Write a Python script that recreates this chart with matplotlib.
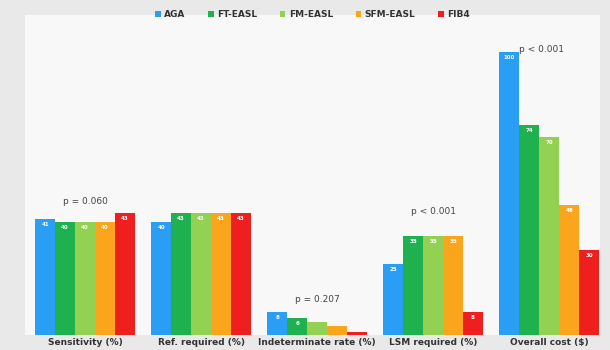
import matplotlib
matplotlib.use("Agg")
import matplotlib.pyplot as plt
import numpy as np

categories = ["Sensitivity (%)", "Ref. required (%)", "Indeterminate rate (%)",
              "LSM required (%)", "Overall cost ($)"]
series_names = ["AGA", "FT-EASL", "FM-EASL", "SFM-EASL", "FIB4"]
aga = [41, 40, 8, 25, 100]
ft_easl = [40, 43, 6, 35, 74]
fm_easl = [40, 43, 4.5, 35, 70]
sfm_easl = [40, 43, 3, 35, 46]
fib4 = [43, 43, 1, 8, 30]
p_labels = ["p = 0.060", "", "p = 0.207", "p < 0.001", "p < 0.001"]

series = [aga, ft_easl, fm_easl, sfm_easl, fib4]
colors = ["#2a9df4", "#1fb14f", "#93d152", "#fba51c", "#ef1f1f"]

fig = plt.figure(figsize=(6.1, 3.5), dpi=100, facecolor="#e9e9e9")
ax = fig.add_axes([0.041, 0.043, 0.943, 0.914])
ax.set_facecolor("#f8f8f8")
for s in ax.spines.values():
    s.set_visible(False)

x = np.arange(len(categories))
w = 0.172
for i, (vals, c, name) in enumerate(zip(series, colors, series_names)):
    pos = x + (i - 2) * w
    bars = ax.bar(pos, vals, width=w, color=c, label=name, edgecolor="none")
    for b, v in zip(bars, vals):
        if v >= 5:
            ax.text(b.get_x() + b.get_width() / 2, v - 1, f"{v:g}", ha="center", va="top",
                    fontsize=4, color="white", fontweight="bold")

ax.set_xlim(-0.517, 4.44)
ax.set_ylim(0, 113)
ax.set_yticks([])
ax.set_xticks(x)
ax.set_xticklabels(categories, fontsize=6.5, fontweight="bold", color="#333333")
ax.tick_params(axis="x", length=0, pad=2)

p_pos = [(0, 47), (1, 0), (2, 12.5), (3, 43.5), (3.93, 101)]
for (xp, yp), t in zip(p_pos, p_labels):
    if t:
        ax.text(xp, yp, t, ha="center", va="center", fontsize=6.5, color="#444444")

leg = ax.legend(loc="upper center", bbox_to_anchor=(0.5, 1.04), ncol=5, frameon=False,
                fontsize=6.5, handlelength=0.6, handleheight=0.6, columnspacing=2.5,
                handletextpad=0.4)
for t in leg.get_texts():
    t.set_fontweight("bold")
    t.set_color("#333333")

fig.savefig("out.png", dpi=100, facecolor=fig.get_facecolor())
